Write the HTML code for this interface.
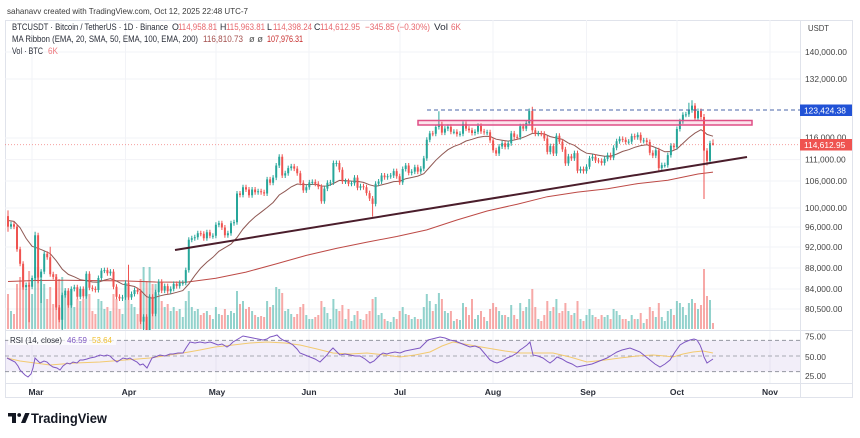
<!DOCTYPE html>
<html><head><meta charset="utf-8">
<style>
html,body{margin:0;padding:0;background:#fff;overflow:hidden;}
svg{display:block;}
text{font-family:"Liberation Sans",Arial,sans-serif;}
</style></head>
<body>
<svg width="860" height="438" viewBox="0 0 860 438" xmlns="http://www.w3.org/2000/svg">
<defs>
<clipPath id="mainclip"><rect x="5" y="20" width="795" height="310"/></clipPath>
<clipPath id="rsiclip"><rect x="5" y="331" width="795" height="52"/></clipPath>
</defs>
<rect width="860" height="438" fill="#fff"/>

<text x="7" y="14" font-size="8.5" fill="#3a3a3a" textLength="241" lengthAdjust="spacingAndGlyphs">sahanavv created with TradingView.com, Oct 12, 2025 22:48 UTC-7</text>

<rect x="5.5" y="20.5" width="847" height="377" fill="none" stroke="#e0e3eb" stroke-width="1"/>

<!-- grid -->
<g stroke="#f2f3f7" stroke-width="1">
<line x1="5" x2="800" y1="52" y2="52"/><line x1="5" x2="800" y1="79" y2="79"/><line x1="5" x2="800" y1="138" y2="138"/><line x1="5" x2="800" y1="159.6" y2="159.6"/><line x1="5" x2="800" y1="181" y2="181"/><line x1="5" x2="800" y1="208" y2="208"/><line x1="5" x2="800" y1="227" y2="227"/><line x1="5" x2="800" y1="247" y2="247"/><line x1="5" x2="800" y1="268" y2="268"/><line x1="5" x2="800" y1="289" y2="289"/><line x1="5" x2="800" y1="309" y2="309"/>
<line x1="32" x2="32" y1="20" y2="383"/><line x1="125.5" x2="125.5" y1="20" y2="383"/><line x1="216" x2="216" y1="20" y2="383"/><line x1="309" x2="309" y1="20" y2="383"/><line x1="400" x2="400" y1="20" y2="383"/><line x1="493" x2="493" y1="20" y2="383"/><line x1="586.5" x2="586.5" y1="20" y2="383"/><line x1="677" x2="677" y1="20" y2="383"/><line x1="770" x2="770" y1="20" y2="383"/>
</g>

<!-- RSI band -->
<rect x="5" y="340.4" width="795" height="31.2" fill="#7e57c2" fill-opacity="0.1"/>
<line x1="5" y1="340.4" x2="800" y2="340.4" stroke="#9598a1" stroke-dasharray="4 3" stroke-width="1"/>
<line x1="5" y1="356" x2="800" y2="356" stroke="#9598a1" stroke-dasharray="4 3" stroke-width="1" stroke-opacity="0.8"/>
<line x1="5" y1="371.6" x2="800" y2="371.6" stroke="#9598a1" stroke-dasharray="4 3" stroke-width="1"/>

<g clip-path="url(#mainclip)">
<!-- volume -->
<path fill="#26a69a" fill-opacity="0.5" d="M10 311h2V329h-2zM25.1 289h2V329h-2zM31.1 294h2V329h-2zM34.1 267h2V329h-2zM40.1 279h2V329h-2zM43.2 284h2V329h-2zM61.2 277h2V329h-2zM64.2 294h2V329h-2zM70.3 289h2V329h-2zM73.3 307h2V329h-2zM79.3 301h2V329h-2zM85.3 287h2V329h-2zM97.4 299h2V329h-2zM100.4 301h2V329h-2zM103.4 309h2V329h-2zM109.4 311h2V329h-2zM121.5 314h2V329h-2zM124.5 297h2V329h-2zM130.5 304h2V329h-2zM133.5 307h2V329h-2zM142.6 267h2V329h-2zM148.6 267h2V329h-2zM154.6 284h2V329h-2zM157.7 294h2V329h-2zM163.7 307h2V329h-2zM169.7 311h2V329h-2zM172.7 307h2V329h-2zM178.7 309h2V329h-2zM181.8 317h2V329h-2zM184.8 301h2V329h-2zM187.8 291h2V329h-2zM190.8 307h2V329h-2zM193.8 311h2V329h-2zM196.8 309h2V329h-2zM205.9 311h2V329h-2zM211.9 319h2V329h-2zM214.9 307h2V329h-2zM217.9 314h2V329h-2zM226.9 315h2V329h-2zM230 311h2V329h-2zM233 313h2V329h-2zM236 291h2V329h-2zM242 301h2V329h-2zM251.1 311h2V329h-2zM257.1 317h2V329h-2zM266.1 301h2V329h-2zM272.1 305h2V329h-2zM275.2 287h2V329h-2zM278.2 289h2V329h-2zM284.2 311h2V329h-2zM287.2 309h2V329h-2zM290.2 314h2V329h-2zM305.3 315h2V329h-2zM308.3 319h2V329h-2zM311.3 319h2V329h-2zM323.4 307h2V329h-2zM326.4 313h2V329h-2zM329.4 319h2V329h-2zM332.4 299h2V329h-2zM335.4 309h2V329h-2zM344.5 319h2V329h-2zM350.5 321h2V329h-2zM353.5 315h2V329h-2zM359.5 319h2V329h-2zM374.6 297h2V329h-2zM377.6 315h2V329h-2zM380.6 313h2V329h-2zM386.6 321h2V329h-2zM389.7 322h2V329h-2zM392.7 317h2V329h-2zM401.7 307h2V329h-2zM404.7 314h2V329h-2zM410.7 319h2V329h-2zM413.8 317h2V329h-2zM419.8 319h2V329h-2zM422.8 307h2V329h-2zM425.8 294h2V329h-2zM428.8 301h2V329h-2zM434.8 304h2V329h-2zM437.9 293h2V329h-2zM443.9 311h2V329h-2zM446.9 313h2V329h-2zM452.9 321h2V329h-2zM459 320h2V329h-2zM462 303h2V329h-2zM474 319h2V329h-2zM477 315h2V329h-2zM486.1 321h2V329h-2zM498.1 311h2V329h-2zM501.1 315h2V329h-2zM507.2 317h2V329h-2zM510.2 305h2V329h-2zM519.2 303h2V329h-2zM525.2 307h2V329h-2zM528.2 299h2V329h-2zM537.3 319h2V329h-2zM549.3 311h2V329h-2zM555.4 299h2V329h-2zM567.4 311h2V329h-2zM573.4 313h2V329h-2zM579.5 319h2V329h-2zM585.5 315h2V329h-2zM588.5 309h2V329h-2zM591.5 315h2V329h-2zM603.6 317h2V329h-2zM606.6 315h2V329h-2zM612.6 309h2V329h-2zM615.6 311h2V329h-2zM618.6 315h2V329h-2zM627.7 321h2V329h-2zM630.7 315h2V329h-2zM636.7 319h2V329h-2zM642.7 323h2V329h-2zM654.8 317h2V329h-2zM660.8 317h2V329h-2zM663.8 321h2V329h-2zM666.8 311h2V329h-2zM669.9 309h2V329h-2zM675.9 301h2V329h-2zM678.9 303h2V329h-2zM681.9 307h2V329h-2zM684.9 315h2V329h-2zM687.9 303h2V329h-2zM691 299h2V329h-2zM697 309h2V329h-2zM709 300h2V329h-2z"/>
<path fill="#ef5350" fill-opacity="0.5" d="M7 294h2V329h-2zM13 314h2V329h-2zM16 284h2V329h-2zM19.1 277h2V329h-2zM22.1 267h2V329h-2zM28.1 271h2V329h-2zM37.1 267h2V329h-2zM46.2 299h2V329h-2zM49.2 287h2V329h-2zM52.2 304h2V329h-2zM55.2 274h2V329h-2zM58.2 279h2V329h-2zM67.3 291h2V329h-2zM76.3 299h2V329h-2zM82.3 299h2V329h-2zM88.4 294h2V329h-2zM91.4 311h2V329h-2zM94.4 314h2V329h-2zM106.4 307h2V329h-2zM112.5 294h2V329h-2zM115.5 299h2V329h-2zM118.5 309h2V329h-2zM127.5 291h2V329h-2zM136.6 314h2V329h-2zM139.6 279h2V329h-2zM145.6 281h2V329h-2zM151.6 284h2V329h-2zM160.7 301h2V329h-2zM166.7 304h2V329h-2zM175.7 311h2V329h-2zM199.8 315h2V329h-2zM202.8 313h2V329h-2zM208.9 315h2V329h-2zM220.9 315h2V329h-2zM223.9 309h2V329h-2zM239 304h2V329h-2zM245 309h2V329h-2zM248 307h2V329h-2zM254.1 315h2V329h-2zM260.1 316h2V329h-2zM263.1 317h2V329h-2zM269.1 307h2V329h-2zM281.2 293h2V329h-2zM293.2 317h2V329h-2zM296.2 314h2V329h-2zM299.3 307h2V329h-2zM302.3 304h2V329h-2zM314.3 317h2V329h-2zM317.3 315h2V329h-2zM320.4 301h2V329h-2zM338.4 311h2V329h-2zM341.4 305h2V329h-2zM347.5 309h2V329h-2zM356.5 311h2V329h-2zM362.5 320h2V329h-2zM365.5 314h2V329h-2zM368.6 311h2V329h-2zM371.6 299h2V329h-2zM383.6 319h2V329h-2zM395.7 319h2V329h-2zM398.7 311h2V329h-2zM407.7 315h2V329h-2zM416.8 319h2V329h-2zM431.8 311h2V329h-2zM440.9 299h2V329h-2zM449.9 311h2V329h-2zM455.9 319h2V329h-2zM465 307h2V329h-2zM468 315h2V329h-2zM471 299h2V329h-2zM480 311h2V329h-2zM483.1 317h2V329h-2zM489.1 309h2V329h-2zM492.1 303h2V329h-2zM495.1 307h2V329h-2zM504.1 315h2V329h-2zM513.2 315h2V329h-2zM516.2 319h2V329h-2zM522.2 311h2V329h-2zM531.3 289h2V329h-2zM534.3 307h2V329h-2zM540.3 321h2V329h-2zM543.3 315h2V329h-2zM546.3 301h2V329h-2zM552.4 307h2V329h-2zM558.4 313h2V329h-2zM561.4 311h2V329h-2zM564.4 303h2V329h-2zM570.4 315h2V329h-2zM576.5 301h2V329h-2zM582.5 321h2V329h-2zM594.5 317h2V329h-2zM597.5 319h2V329h-2zM600.6 315h2V329h-2zM609.6 319h2V329h-2zM621.7 319h2V329h-2zM624.7 319h2V329h-2zM633.7 319h2V329h-2zM639.7 313h2V329h-2zM645.8 319h2V329h-2zM648.8 307h2V329h-2zM651.8 311h2V329h-2zM657.8 303h2V329h-2zM672.9 315h2V329h-2zM694 303h2V329h-2zM700 305h2V329h-2zM703 269h2V329h-2zM706 296h2V329h-2zM712 323h2V329h-2z"/>

<!-- EMA200 -->
<polyline fill="none" stroke="#bd4a46" stroke-width="1" points="8,281.5 35.1,280.5 65.2,280.3 95.4,280.6 125.5,280.9 155.6,282 185.8,282.3 215.9,278.3 246,272.1 276.2,263.9 306.3,255.4 336.4,248.4 366.5,242.2 396.7,236.5 426.8,229.9 456.9,220 487.1,211 517.2,204.2 547.3,196.7 577.5,192.1 607.6,188.7 637.7,183.6 667.8,180.2 698,174 713,172.1"/>
<!-- EMA20 -->
<polyline fill="none" stroke="#8f5853" stroke-width="1" points="8,220.5 14,221.4 20.1,227.8 26.1,238.4 32.1,246.3 38.1,248.3 44.2,250.8 50.2,253.6 56.2,260.7 62.2,269.1 68.3,274.4 74.3,276.8 80.3,279.7 86.3,280.6 92.4,282 98.4,282.3 104.4,280.1 110.4,278.7 116.5,281.1 122.5,284.2 128.5,285.3 134.5,286.5 140.6,290.3 146.6,296.7 152.6,298.3 158.7,296.2 164.7,294.8 170.7,293.9 176.7,292.3 182.8,290.6 188.8,284 194.8,275.6 200.8,268 206.9,262.1 212.9,257.3 218.9,251.3 224.9,247.7 231,244.1 237,237.5 243,229 249,222.4 255.1,216.7 261.1,212.2 267.1,207.5 273.1,202.5 279.2,195 285.2,191.2 291.2,186.9 297.2,184 303.3,184.5 309.3,184.6 315.3,184.2 321.4,186.1 327.4,186 333.4,183.5 339.4,180.4 345.5,180.6 351.5,181.1 357.5,181.4 363.5,182.4 369.6,184.8 375.6,186.4 381.6,184.9 387.6,183.4 393.7,181.6 399.7,181.2 405.7,178.7 411.7,177.5 417.8,176.1 423.8,173.7 429.8,167 435.8,160.3 441.9,154.6 447.9,149.7 453.9,146.4 460,144.2 466,141 472,139.3 478,137.4 484.1,136.4 490.1,136.4 496.1,139.2 502.1,140.2 508.2,141.1 514.2,140 520.2,138.5 526.2,136.2 532.3,133.4 538.3,133.4 544.3,133.9 550.3,136.6 556.4,138 562.4,139.4 568.4,143.1 574.4,145.3 580.5,149.8 586.5,153.2 592.5,154 598.5,155.2 604.6,156.3 610.6,156.3 616.6,154.1 622.7,151.4 628.7,149.7 634.7,147.3 640.7,145.6 646.8,144.8 652.8,146.5 658.8,148.9 664.8,151.8 670.9,151.5 676.9,149 682.9,143.4 688.9,137.7 695,133.1 701,129.7 704,131.7 707,134.4 713,136.2"/>

<!-- wicks -->
<path fill="none" stroke="#26a69a" stroke-width="1" d="M11 221.7V229.1M26.1 282.5V289.7M32.1 275.5V289.2M35.1 231.8V280.5M41.1 269.1V303M44.2 251.3V274.1M62.2 292.6V331.8M65.2 288.1V297.6M71.3 286.4V307.7M74.3 284.7V291.4M80.3 286.4V299.3M86.3 271.3V298.7M98.4 275.5V292.5M101.4 268.1V280.5M104.4 267.6V273.1M110.4 269.1V275.7M122.5 294.9V301M125.5 280.3V299.9M131.5 291.5V299.9M134.5 287.5V296.5M143.6 314.3V344M149.6 294.3V344M155.6 289.8V316.3M158.7 279.2V294.8M164.7 283.6V293.1M170.7 286.4V293.7M173.7 281.4V291.4M179.7 280.3V288.6M182.8 280.3V285.8M185.8 267.6V285.3M188.8 237.3V272.6M191.8 235.8V242.3M194.8 234.8V240.8M197.8 230.8V239.8M206.9 229.8V240.8M212.9 233.3V238.8M215.9 222.2V238.3M218.9 220.7V227.2M227.9 230.8V237.8M231 220.7V235.8M234 219.8V225.7M237 191V224.8M243 184.7V197.4M252.1 187V197.8M258.1 188.8V194.7M267.1 176.9V196M273.1 175.1V185.3M276.2 163V180.1M279.2 154.3V168M285.2 170.8V178M288.2 165.6V175.8M291.2 163.9V170.6M306.3 184.7V192.9M309.3 179.9V189.7M312.3 179.4V184.9M324.4 186.1V203.7M327.4 180.3V191.1M330.4 179.9V185.9M333.4 160.5V184.9M336.4 160.5V166.5M345.5 178.6V184M351.5 180.7V186.2M354.5 175.1V185.7M360.5 183.8V190.2M375.6 181.2V206.4M378.6 179V186.2M381.6 173V184M387.6 173.8V179.7M390.7 173V178.8M393.7 168.6V178M402.7 166.5V184.9M405.7 163V171.5M411.7 169.1V175.4M414.8 164.8V174.1M420.8 166.1V174.1M423.8 155.9V171.1M426.8 137.2V160.9M429.8 130.9V142.2M435.8 124.5V136.2M438.9 111.3V129.5M444.9 126.1V135.1M447.9 124.2V131.1M453.9 129.3V134.3M460 131.2V136.6M463 121.4V136.2M475 129.3V135.5M478 123.4V134.3M487.1 129.7V135.2M499.1 144V156M502.1 140.7V149M508.2 140.7V149.4M511.2 130.9V145.7M520.2 123.8V139.8M526.2 120.6V131.1M529.2 108.5V125.6M538.3 130.9V136.2M550.3 143.6V154.4M556.4 133.2V156M568.4 153.9V165.9M574.4 150.6V160.9M580.5 166.5V173.2M586.5 164.3V173.6M589.5 155.9V169.3M592.5 154.3V160.9M604.6 156.4V165.5M607.6 152.6V161.4M613.6 145.2V160.1M616.6 138.7V150.2M619.6 136.4V143.7M628.7 139.1V144.5M631.7 133.6V144.1M637.7 132.4V139.8M643.7 137.9V143.4M655.8 147.7V158.1M661.8 162.6V170.6M664.8 162.6V167.6M667.8 152.6V167.6M670.9 143.1V157.6M676.9 126.5V149.8M679.9 118.7V131.5M682.9 112.3V123.7M685.9 111.9V117.3M688.9 102.7V116.9M692 100.2V112.7M698 108.5V120.7M710 140.7V163.4"/>
<path fill="none" stroke="#ef5350" stroke-width="1" d="M8 210.4V231.8M14 221.7V229.1M17 224.1V251.8M20.1 246.8V266.2M23.1 261.2V289.7M29.1 282.5V322.2M38.1 232.8V283.3M47.2 251.3V259.8M50.2 246.8V276.8M53.2 271.8V279.4M56.2 274.4V310M59.2 305V322.3M68.3 288.1V307.7M77.3 284.7V299.3M83.3 286.4V298.7M89.4 271.3V290.3M92.4 285.3V291.4M95.4 286.4V292.5M107.4 267.6V275.7M113.5 269.1V289.2M116.5 284.2V299.3M119.5 294.3V301M128.5 264.8V299.9M137.6 287.5V294.2M140.6 289.2V324.1M146.6 314.3V336.1M152.6 294.3V316.3M161.7 279.2V293.1M167.7 283.6V293.7M176.7 281.4V288.6M200.8 230.8V236.3M203.8 231.3V240.8M209.9 229.8V238.3M221.9 220.7V230M224.9 225V237.8M240 191V197.4M246 184.7V192M249 187V197.8M255.1 187V194.7M261.1 188.8V194.7M264.1 189.7V196M270.1 176.9V185.3M282.2 154.3V178M294.2 163.9V171.1M297.2 166.1V175.8M300.3 170.8V185.3M303.3 180.3V192.9M315.3 179.4V186.2M318.3 181.2V189.3M321.4 184.3V203.7M339.4 160.5V172.3M342.4 167.3V184M348.5 178.6V186.2M357.5 175.1V190.2M363.5 183.8V189.7M366.5 184.7V195.6M369.6 190.6V201M372.6 196V216.6M384.6 173V179.7M396.7 168.6V178.8M399.7 173.8V184.9M408.7 163V175.4M417.8 164.8V174.1M432.8 130.9V136.2M441.9 121.8V135.1M450.9 124.2V134.3M456.9 129.3V136.6M466 121.4V131.1M469 126.1V132.7M472 127.7V135.5M481 123.4V133.9M484.1 128.9V134.7M490.1 129.7V142.9M493.1 137.9V152.7M496.1 147.7V156M505.1 140.7V149.4M514.2 130.9V139.4M517.2 134.4V139.8M523.2 123.8V131.1M532.3 106.8V132.7M535.3 127.7V136.2M541.3 130.9V136.2M544.3 131.2V141M547.3 136V154.4M553.4 143.6V156M559.4 133.2V144.1M562.4 139.1V151.9M565.4 146.9V165.9M571.4 153.9V160.9M577.5 150.6V173.2M583.5 166.5V173.6M595.5 154.3V163M598.5 158V163.4M601.6 158.4V165.5M610.6 152.6V160.1M622.7 136.4V142.2M625.7 137.2V144.5M634.7 133.6V139.8M640.7 132.4V142.9M646.8 137.9V144.5M649.8 139.5V155.2M652.8 150.2V158.1M658.8 147.7V170.6M673.9 143.1V149.8M695 103.1V120.7M701 108.5V119.5M704 114V199M707 148.1V165.5M713 139.4V145.5"/>

<!-- bodies -->
<path fill="#26a69a" d="M10 224.2h2V226.6h-2zM25.1 285h2V287.2h-2zM31.1 278h2V286.7h-2zM34.1 235.3h2V278h-2zM40.1 271.6h2V277.5h-2zM43.2 253.8h2V271.6h-2zM61.2 295.1h2V319.8h-2zM64.2 290.6h2V295.1h-2zM70.3 288.9h2V305.2h-2zM73.3 287.2h2V288.9h-2zM79.3 288.9h2V296.8h-2zM85.3 273.8h2V296.2h-2zM97.4 278h2V290h-2zM100.4 270.6h2V278h-2zM103.4 270.1h2V271.1h-2zM109.4 271.6h2V273.2h-2zM121.5 297.4h2V298.5h-2zM124.5 282.8h2V297.4h-2zM130.5 294h2V297.4h-2zM133.5 290h2V294h-2zM142.6 316.8h2V321.6h-2zM148.6 296.8h2V333.6h-2zM154.6 292.3h2V313.8h-2zM157.7 281.7h2V292.3h-2zM163.7 286.1h2V290.6h-2zM169.7 288.9h2V291.2h-2zM172.7 283.9h2V288.9h-2zM178.7 282.8h2V286.1h-2zM181.8 282.8h2V283.8h-2zM184.8 270.1h2V282.8h-2zM187.8 239.8h2V270.1h-2zM190.8 238.3h2V239.8h-2zM193.8 237.3h2V238.3h-2zM196.8 233.3h2V237.3h-2zM205.9 232.3h2V238.3h-2zM211.9 235.8h2V236.8h-2zM214.9 224.7h2V235.8h-2zM217.9 223.2h2V224.7h-2zM226.9 233.3h2V235.3h-2zM230 223.2h2V233.3h-2zM233 222.3h2V223.3h-2zM236 193.5h2V222.3h-2zM242 187.2h2V194.9h-2zM251.1 189.5h2V195.3h-2zM257.1 191.3h2V192.3h-2zM266.1 179.4h2V193.5h-2zM272.1 177.6h2V182.8h-2zM275.2 165.5h2V177.6h-2zM278.2 156.8h2V165.5h-2zM284.2 173.3h2V175.5h-2zM287.2 168.1h2V173.3h-2zM290.2 166.4h2V168.1h-2zM305.3 187.2h2V190.4h-2zM308.3 182.4h2V187.2h-2zM311.3 181.9h2V182.9h-2zM323.4 188.6h2V201.2h-2zM326.4 182.8h2V188.6h-2zM329.4 182.4h2V183.4h-2zM332.4 163h2V182.4h-2zM335.4 163h2V164h-2zM344.5 181.1h2V182.1h-2zM350.5 183.2h2V184.2h-2zM353.5 177.6h2V183.2h-2zM359.5 186.3h2V187.7h-2zM374.6 183.7h2V203.9h-2zM377.6 181.5h2V183.7h-2zM380.6 175.5h2V181.5h-2zM386.6 176.3h2V177.3h-2zM389.7 175.5h2V176.5h-2zM392.7 171.1h2V175.5h-2zM401.7 169h2V182.4h-2zM404.7 165.5h2V169h-2zM410.7 171.6h2V172.9h-2zM413.8 167.3h2V171.6h-2zM419.8 168.6h2V171.6h-2zM422.8 158.4h2V168.6h-2zM425.8 139.7h2V158.4h-2zM428.8 133.4h2V139.7h-2zM434.8 127h2V133.7h-2zM437.9 124.3h2V127h-2zM443.9 128.6h2V132.6h-2zM446.9 126.7h2V128.6h-2zM452.9 131.8h2V132.8h-2zM459 133.7h2V134.7h-2zM462 123.9h2V133.7h-2zM474 131.8h2V133h-2zM477 125.9h2V131.8h-2zM486.1 132.2h2V133.2h-2zM498.1 146.5h2V153.5h-2zM501.1 143.2h2V146.5h-2zM507.2 143.2h2V146.9h-2zM510.2 133.4h2V143.2h-2zM519.2 126.3h2V137.3h-2zM525.2 123.1h2V128.6h-2zM528.2 111h2V123.1h-2zM537.3 133.4h2V134.4h-2zM549.3 146.1h2V151.9h-2zM555.4 135.7h2V153.5h-2zM567.4 156.4h2V163.4h-2zM573.4 153.1h2V158.4h-2zM579.5 169h2V170.7h-2zM585.5 166.8h2V171.1h-2zM588.5 158.4h2V166.8h-2zM591.5 156.8h2V158.4h-2zM603.6 158.9h2V163h-2zM606.6 155.1h2V158.9h-2zM612.6 147.7h2V157.6h-2zM615.6 141.2h2V147.7h-2zM618.6 138.9h2V141.2h-2zM627.7 141.6h2V142.6h-2zM630.7 136.1h2V141.6h-2zM636.7 134.9h2V137.3h-2zM642.7 140.4h2V141.4h-2zM654.8 150.2h2V155.6h-2zM660.8 165.1h2V168.1h-2zM663.8 165.1h2V166.1h-2zM666.8 155.1h2V165.1h-2zM669.9 145.6h2V155.1h-2zM675.9 129h2V147.3h-2zM678.9 121.2h2V129h-2zM681.9 114.8h2V121.2h-2zM684.9 114.4h2V115.4h-2zM687.9 110.2h2V114.4h-2zM691 105.6h2V110.2h-2zM697 111h2V118.2h-2zM709 143.2h2V160.9h-2z"/>
<path fill="#ef5350" d="M7 216.1h2V226.6h-2zM13 224.2h2V226.6h-2zM16 226.6h2V249.3h-2zM19.1 249.3h2V263.7h-2zM22.1 263.7h2V287.2h-2zM28.1 285h2V286.7h-2zM37.1 235.3h2V277.5h-2zM46.2 253.8h2V257.3h-2zM49.2 257.3h2V274.3h-2zM52.2 274.3h2V276.9h-2zM55.2 276.9h2V307.5h-2zM58.2 307.5h2V319.8h-2zM67.3 290.6h2V305.2h-2zM76.3 287.2h2V296.8h-2zM82.3 288.9h2V296.2h-2zM88.4 273.8h2V287.8h-2zM91.4 287.8h2V288.9h-2zM94.4 288.9h2V290h-2zM106.4 270.1h2V273.2h-2zM112.5 271.6h2V286.7h-2zM115.5 286.7h2V296.8h-2zM118.5 296.8h2V298.5h-2zM127.5 282.8h2V297.4h-2zM136.6 290h2V291.7h-2zM139.6 291.7h2V321.6h-2zM145.6 316.8h2V333.6h-2zM151.6 296.8h2V313.8h-2zM160.7 281.7h2V290.6h-2zM166.7 286.1h2V291.2h-2zM175.7 283.9h2V286.1h-2zM199.8 233.3h2V234.3h-2zM202.8 233.8h2V238.3h-2zM208.9 232.3h2V235.8h-2zM220.9 223.2h2V227.5h-2zM223.9 227.5h2V235.3h-2zM239 193.5h2V194.9h-2zM245 187.2h2V189.5h-2zM248 189.5h2V195.3h-2zM254.1 189.5h2V192.2h-2zM260.1 191.3h2V192.3h-2zM263.1 192.2h2V193.5h-2zM269.1 179.4h2V182.8h-2zM281.2 156.8h2V175.5h-2zM293.2 166.4h2V168.6h-2zM296.2 168.6h2V173.3h-2zM299.3 173.3h2V182.8h-2zM302.3 182.8h2V190.4h-2zM314.3 181.9h2V183.7h-2zM317.3 183.7h2V186.8h-2zM320.4 186.8h2V201.2h-2zM338.4 163h2V169.8h-2zM341.4 169.8h2V181.5h-2zM347.5 181.1h2V183.7h-2zM356.5 177.6h2V187.7h-2zM362.5 186.3h2V187.3h-2zM365.5 187.2h2V193.1h-2zM368.6 193.1h2V198.5h-2zM371.6 198.5h2V203.9h-2zM383.6 175.5h2V177.2h-2zM395.7 171.1h2V176.3h-2zM398.7 176.3h2V182.4h-2zM407.7 165.5h2V172.9h-2zM416.8 167.3h2V171.6h-2zM431.8 133.4h2V134.4h-2zM440.9 124.3h2V132.6h-2zM449.9 126.7h2V131.8h-2zM455.9 131.8h2V134.1h-2zM465 123.9h2V128.6h-2zM468 128.6h2V130.2h-2zM471 130.2h2V133h-2zM480 125.9h2V131.4h-2zM483.1 131.4h2V132.4h-2zM489.1 132.2h2V140.4h-2zM492.1 140.4h2V150.2h-2zM495.1 150.2h2V153.5h-2zM504.1 143.2h2V146.9h-2zM513.2 133.4h2V136.9h-2zM516.2 136.9h2V137.9h-2zM522.2 126.3h2V128.6h-2zM531.3 111h2V130.2h-2zM534.3 130.2h2V133.7h-2zM540.3 133.4h2V134.4h-2zM543.3 133.7h2V138.5h-2zM546.3 138.5h2V151.9h-2zM552.4 146.1h2V153.5h-2zM558.4 135.7h2V141.6h-2zM561.4 141.6h2V149.4h-2zM564.4 149.4h2V163.4h-2zM570.4 156.4h2V158.4h-2zM576.5 153.1h2V170.7h-2zM582.5 169h2V171.1h-2zM594.5 156.8h2V160.5h-2zM597.5 160.5h2V161.5h-2zM600.6 160.9h2V163h-2zM609.6 155.1h2V157.6h-2zM621.7 138.9h2V139.9h-2zM624.7 139.7h2V142h-2zM633.7 136.1h2V137.3h-2zM639.7 134.9h2V140.4h-2zM645.8 140.4h2V142h-2zM648.8 142h2V152.7h-2zM651.8 152.7h2V155.6h-2zM657.8 150.2h2V168.1h-2zM672.9 145.6h2V147.3h-2zM694 105.6h2V118.2h-2zM700 111h2V117h-2zM703 117h2V150.6h-2zM706 150.6h2V160.9h-2zM712 143.4h2V144.8h-2z"/>

<!-- drawings -->
<line x1="5" y1="144.6" x2="800" y2="144.6" stroke="#ef5350" stroke-opacity="0.55" stroke-dasharray="1 2" stroke-width="1"/>
<line x1="427" y1="110" x2="800" y2="110" stroke="#4a64a8" stroke-dasharray="4 3" stroke-width="1"/>
<rect x="418" y="120.5" width="334" height="4.5" fill="#e91e63" fill-opacity="0.12" stroke="#df4f86" stroke-width="1.5"/>
<line x1="175" y1="250" x2="747" y2="157" stroke="#4a1d2b" stroke-width="2"/>
</g>

<!-- RSI -->
<g clip-path="url(#rsiclip)">
<polyline fill="none" stroke="#f2c14e" stroke-opacity="0.8" stroke-width="1" points="7,358 20,361 35,363 50,365 75,363 100,362 125,360 150,358 170,355 183,353 200,350 215,347 233,345 250,343 267,342 285,343 300,345 317,349 333,353 350,354 367,353 385,355 400,357 415,355 430,352 442,346 453,342 470,345 487,348 505,351 520,353 537,353 553,353 570,357 587,362 605,360 620,358 637,356 653,355 665,356 673,357 683,354 693,352 703,351 713,353"/>
<polyline fill="none" stroke="#7e57c2" stroke-width="1" points="7,358 11,360 15,362 18,366 20,370 23,373 25,375 28,377 31,374 33,368 35,358 38,361 40,363 44,361 47,362 50,365 53,367 57,368 60,370 63,366 67,363 70,364 73,362 77,363 80,360 83,360 87,359 90,358 95,357 100,355 104,356 107,355 110,356 113,359 117,362 120,360 123,358 127,359 130,358 133,360 137,362 140,365 143,364 147,368 150,362 152,358 155,357 160,355 165,356 170,354 173,354 178,353 183,353 186,348 190,342 195,343 200,342 205,343 210,342 213,343 218,345 222,344 227,347 230,345 233,342 238,339 243,336 248,337 253,338 258,339 263,340 267,339 270,337 274,336 277,335 280,338 283,340 288,342 293,345 297,349 300,353 305,355 310,357 315,359 320,362 323,359 327,355 330,351 333,348 337,352 340,355 345,354 350,355 355,356 360,356 365,359 370,363 374,361 377,358 380,355 383,353 387,354 390,353 395,352 400,353 405,351 410,350 415,349 420,348 423,345 426,342 428,340 432,339 436,338 440,337 445,338 450,340 455,341 460,343 465,345 470,347 475,346 480,348 485,354 490,360 494,362 497,363 502,361 507,358 512,356 517,353 520,350 523,348 527,345 530,342 533,355 538,356 543,358 547,361 550,363 554,360 557,357 562,359 567,362 572,364 577,367 582,366 587,365 592,364 597,362 602,360 607,358 612,355 617,352 622,350 626,349 630,348 635,350 640,352 645,356 650,360 655,364 660,367 665,364 670,360 675,352 680,345 685,342 690,340 694,339 697,340 700,345 702,350 704,357 707,363 710,361 713,359"/>
</g>

<!-- separators -->
<line x1="5" y1="330.5" x2="853" y2="330.5" stroke="#e0e3eb" stroke-width="1"/>
<line x1="5" y1="383.5" x2="853" y2="383.5" stroke="#e0e3eb" stroke-width="1"/>
<line x1="800.5" y1="20" x2="800.5" y2="398" stroke="#e0e3eb" stroke-width="1"/>

<!-- legend -->
<g font-size="8.8">
<text x="12" y="30" fill="#2a2e39" textLength="156" lengthAdjust="spacingAndGlyphs">BTCUSDT · Bitcoin / TetherUS · 1D · Binance</text>
<text x="172" y="30" fill="#2a2e39">O</text>
<text x="178" y="30" fill="#e8676d" textLength="39" lengthAdjust="spacingAndGlyphs">114,958.81</text>
<text x="220" y="30" fill="#2a2e39">H</text>
<text x="226" y="30" fill="#e8676d" textLength="39" lengthAdjust="spacingAndGlyphs">115,963.81</text>
<text x="267" y="30" fill="#2a2e39">L</text>
<text x="273" y="30" fill="#e8676d" textLength="39" lengthAdjust="spacingAndGlyphs">114,398.24</text>
<text x="314" y="30" fill="#2a2e39">C</text>
<text x="320" y="30" fill="#e8676d" textLength="40" lengthAdjust="spacingAndGlyphs">114,612.95</text>
<text x="365" y="30" fill="#e8676d" textLength="65" lengthAdjust="spacingAndGlyphs">−345.85 (−0.30%)</text>
<text x="434" y="30" fill="#2a2e39" textLength="14" lengthAdjust="spacingAndGlyphs">Vol</text>
<text x="451" y="30" fill="#e8676d" textLength="10" lengthAdjust="spacingAndGlyphs">6K</text>
<text x="12" y="42" fill="#2a2e39" textLength="186" lengthAdjust="spacingAndGlyphs">MA Ribbon (EMA, 20, SMA, 50, EMA, 100, EMA, 200)</text>
<text x="203" y="42" fill="#a4514f" textLength="40" lengthAdjust="spacingAndGlyphs">116,810.73</text>
<text x="249" y="42" fill="#555" textLength="14" lengthAdjust="spacingAndGlyphs">ø  ø</text>
<text x="267" y="42" fill="#c62828" textLength="36" lengthAdjust="spacingAndGlyphs">107,976.31</text>
<text x="12" y="54" fill="#2a2e39" textLength="31" lengthAdjust="spacingAndGlyphs">Vol · BTC</text>
<text x="48" y="54" fill="#ef7a7f" textLength="10" lengthAdjust="spacingAndGlyphs">6K</text>
</g>

<rect x="8" y="335" width="108" height="10" fill="#fff" fill-opacity="0.7"/>
<g font-size="8.5">
<text x="10" y="343" fill="#2a2e39" textLength="52" lengthAdjust="spacingAndGlyphs">RSI (14, close)</text>
<text x="67" y="343" fill="#7e57c2" textLength="20" lengthAdjust="spacingAndGlyphs">46.59</text>
<text x="92" y="343" fill="#f0c030" textLength="20" lengthAdjust="spacingAndGlyphs">53.64</text>
</g>

<!-- price axis -->
<g font-size="8.4" fill="#444">
<text x="808" y="31" font-size="8" textLength="21" lengthAdjust="spacingAndGlyphs">USDT</text>
<text x="805" y="55">140,000.00</text>
<text x="805" y="82">132,000.00</text>
<text x="805" y="140.5">116,000.00</text>
<text x="805" y="162.5">111,000.00</text>
<text x="805" y="184">106,000.00</text>
<text x="805" y="211">100,000.00</text>
<text x="805" y="230">96,000.00</text>
<text x="805" y="250">92,000.00</text>
<text x="805" y="271">88,000.00</text>
<text x="805" y="292">84,000.00</text>
<text x="805" y="312">80,500.00</text>
<text x="805" y="339.5">75.00</text>
<text x="805" y="360">50.00</text>
<text x="805" y="379">25.00</text>
</g>
<rect x="800" y="104.5" width="52" height="11.5" fill="#2152d6"/>
<text x="804" y="113.4" font-size="8.4" fill="#fff">123,424.38</text>
<rect x="800" y="139" width="52" height="11.5" fill="#ef5350"/>
<text x="804" y="147.9" font-size="8.4" fill="#fff">114,612.95</text>

<!-- time axis -->
<g font-size="8.5" font-weight="bold" fill="#2a2e39" text-anchor="middle">
<text x="36" y="395">Mar</text>
<text x="129" y="395">Apr</text>
<text x="217" y="395">May</text>
<text x="309" y="395">Jun</text>
<text x="400" y="395">Jul</text>
<text x="493" y="395">Aug</text>
<text x="588" y="395">Sep</text>
<text x="677" y="395">Oct</text>
<text x="770" y="395">Nov</text>
</g>

<!-- logo -->
<g fill="#131722">
<rect x="8" y="413" width="8" height="3.5"/>
<rect x="12" y="413" width="4" height="10"/>
<circle cx="19.2" cy="415" r="1.9"/>
<polygon points="21,423 25.2,413 29.6,413 25.4,423"/>
</g>
<text x="31" y="423" font-size="13.5" font-weight="bold" fill="#131722" textLength="76" lengthAdjust="spacingAndGlyphs">TradingView</text>
</svg>
</body></html>
